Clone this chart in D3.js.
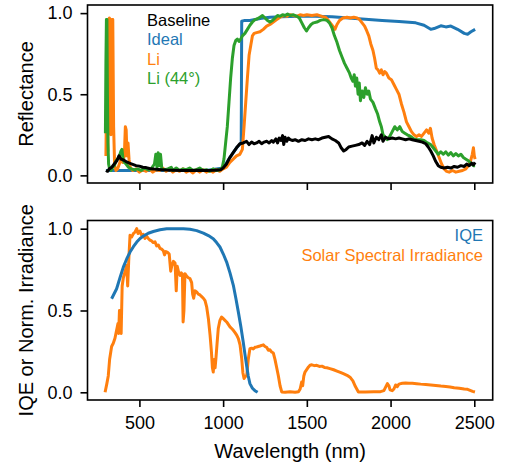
<!DOCTYPE html>
<html>
<head>
<meta charset="utf-8">
<script src="https://cdnjs.cloudflare.com/ajax/libs/d3/7.8.5/d3.min.js"></script>
<style>
  body { margin: 0; background: #fff; }
  svg { font-family: "Liberation Sans", Arial, Helvetica, sans-serif; }
  .tick text { font-size: 18px; fill: #000; }
  .tick line { stroke: #000; stroke-width: 1.6; }
  .domain { display: none; }
  .frame { fill: none; stroke: #000; stroke-width: 1.6; }
  .series { fill: none; stroke-width: 3; stroke-linejoin: round; stroke-linecap: butt; }
  .label { font-size: 20px; fill: #000; text-anchor: middle; }
  .legend { font-size: 16.5px; }
</style>
</head>
<body>
<div id="chart"></div>
<script>
// ---- data: [wavelength nm, value] ----
var xTicks = [500, 1000, 1500, 2000, 2500];
var yTicks = [0, 0.5, 1.0];

var baseline = [[300,0.03],[310,0.025],[320,0.04],[335,0.05],[350,0.07],[365,0.09],[378,0.12],[390,0.1],[405,0.095],[420,0.085],[440,0.075],[460,0.068],[480,0.06],[500,0.057],[520,0.05],[540,0.048],[560,0.042],[580,0.04],[600,0.037],[630,0.035],[660,0.033],[700,0.032],[750,0.03],[800,0.03],[850,0.031],[900,0.03],[950,0.031],[985,0.035],[1000,0.045],[1020,0.07],[1040,0.11],[1060,0.14],[1080,0.17],[1100,0.195],[1120,0.2],[1140,0.21],[1155,0.19],[1170,0.205],[1185,0.195],[1200,0.2],[1215,0.21],[1230,0.195],[1245,0.205],[1260,0.21],[1275,0.2],[1290,0.215],[1300,0.205],[1315,0.225],[1325,0.2],[1335,0.23],[1345,0.215],[1355,0.245],[1362,0.19],[1370,0.235],[1380,0.21],[1390,0.23],[1400,0.22],[1415,0.215],[1430,0.22],[1450,0.21],[1470,0.22],[1490,0.215],[1510,0.225],[1530,0.22],[1550,0.225],[1570,0.22],[1590,0.23],[1610,0.235],[1630,0.24],[1650,0.225],[1670,0.215],[1690,0.2],[1705,0.17],[1720,0.15],[1735,0.16],[1750,0.175],[1770,0.18],[1790,0.185],[1810,0.19],[1830,0.2],[1845,0.185],[1860,0.21],[1875,0.19],[1890,0.245],[1900,0.2],[1915,0.235],[1930,0.22],[1945,0.25],[1955,0.21],[1970,0.235],[1990,0.225],[2010,0.23],[2030,0.225],[2050,0.23],[2070,0.225],[2090,0.22],[2110,0.225],[2130,0.22],[2150,0.215],[2170,0.21],[2190,0.205],[2210,0.195],[2225,0.175],[2240,0.15],[2255,0.12],[2270,0.085],[2285,0.06],[2300,0.05],[2320,0.045],[2340,0.05],[2360,0.045],[2380,0.055],[2400,0.05],[2420,0.06],[2440,0.055],[2455,0.07],[2470,0.06],[2485,0.075],[2495,0.065],[2505,0.08]];

var ideal = [[300,0.03],[400,0.03],[500,0.03],[600,0.03],[700,0.03],[800,0.03],[900,0.03],[1000,0.045],[1040,0.11],[1080,0.17],[1108,0.2],[1111,0.95],[1130,0.955],[1160,0.955],[1190,0.96],[1230,0.968],[1280,0.975],[1350,0.978],[1450,0.98],[1550,0.98],[1650,0.978],[1750,0.97],[1850,0.962],[1950,0.955],[2050,0.948],[2150,0.94],[2200,0.925],[2240,0.9],[2260,0.905],[2300,0.922],[2330,0.915],[2360,0.92],[2400,0.9],[2440,0.875],[2460,0.87],[2480,0.885],[2505,0.9]];

var li = [[300,0.12],[304,0.5],[308,0.3],[312,0.15],[316,0.96],[321,0.97],[325,0.4],[330,0.25],[335,0.96],[341,0.96],[346,0.3],[352,0.06],[360,0.03],[370,0.04],[380,0.07],[390,0.1],[400,0.08],[410,0.12],[416,0.3],[421,0.28],[426,0.12],[432,0.2],[438,0.1],[445,0.05],[460,0.03],[480,0.04],[500,0.02],[520,0.035],[540,0.025],[560,0.04],[580,0.02],[600,0.035],[620,0.03],[640,0.045],[660,0.025],[680,0.04],[700,0.02],[720,0.035],[740,0.025],[760,0.04],[780,0.02],[800,0.03],[820,0.015],[840,0.035],[860,0.02],[880,0.035],[900,0.02],[920,0.03],[940,0.02],[960,0.035],[980,0.025],[1000,0.04],[1020,0.05],[1040,0.08],[1060,0.1],[1080,0.12],[1100,0.13],[1115,0.16],[1125,0.3],[1135,0.45],[1145,0.6],[1155,0.74],[1165,0.8],[1175,0.86],[1185,0.875],[1200,0.88],[1220,0.885],[1240,0.9],[1260,0.92],[1280,0.93],[1300,0.945],[1320,0.96],[1340,0.975],[1360,0.985],[1380,0.98],[1400,0.99],[1420,0.985],[1440,0.98],[1460,0.99],[1480,0.985],[1500,0.99],[1530,0.985],[1560,0.99],[1590,0.98],[1610,0.975],[1625,0.96],[1640,0.94],[1655,0.92],[1668,0.9],[1680,0.93],[1695,0.955],[1715,0.97],[1740,0.975],[1760,0.97],[1780,0.975],[1800,0.97],[1815,0.96],[1830,0.94],[1845,0.92],[1858,0.89],[1870,0.86],[1882,0.81],[1895,0.77],[1905,0.72],[1915,0.66],[1925,0.65],[1935,0.63],[1945,0.65],[1955,0.62],[1965,0.64],[1975,0.63],[1990,0.6],[2005,0.59],[2020,0.56],[2035,0.53],[2050,0.5],[2065,0.44],[2080,0.39],[2095,0.33],[2110,0.3],[2125,0.27],[2140,0.25],[2155,0.24],[2170,0.25],[2185,0.24],[2200,0.26],[2215,0.28],[2228,0.26],[2238,0.29],[2248,0.23],[2260,0.19],[2275,0.15],[2290,0.11],[2305,0.07],[2320,0.04],[2335,0.025],[2350,0.02],[2370,0.03],[2390,0.02],[2410,0.025],[2430,0.03],[2450,0.04],[2465,0.06],[2478,0.09],[2488,0.13],[2495,0.17],[2500,0.12],[2505,0.1]];

var li44 = [[297,0.26],[300,0.7],[303,0.96],[306,0.96],[309,0.5],[312,0.2],[316,0.07],[322,0.04],[330,0.03],[340,0.05],[350,0.06],[360,0.09],[370,0.1],[380,0.12],[390,0.15],[396,0.16],[402,0.1],[410,0.08],[420,0.07],[435,0.05],[450,0.04],[470,0.035],[490,0.04],[510,0.03],[530,0.045],[550,0.035],[570,0.04],[590,0.07],[598,0.13],[605,0.05],[612,0.14],[618,0.06],[626,0.13],[634,0.04],[650,0.035],[670,0.04],[690,0.05],[700,0.03],[720,0.045],[740,0.03],[760,0.04],[780,0.035],[800,0.045],[820,0.03],[840,0.035],[860,0.045],[880,0.03],[900,0.035],[920,0.025],[940,0.04],[960,0.03],[980,0.035],[995,0.05],[1005,0.1],[1015,0.2],[1025,0.3],[1035,0.45],[1045,0.6],[1055,0.72],[1065,0.8],[1075,0.83],[1085,0.84],[1095,0.825],[1105,0.84],[1115,0.86],[1130,0.875],[1145,0.9],[1160,0.925],[1175,0.945],[1190,0.96],[1205,0.965],[1220,0.975],[1235,0.985],[1250,0.97],[1265,0.955],[1280,0.945],[1295,0.955],[1310,0.97],[1325,0.985],[1340,0.98],[1355,0.99],[1370,0.985],[1385,0.995],[1400,0.985],[1420,0.99],[1440,0.98],[1455,0.97],[1470,0.94],[1485,0.91],[1498,0.89],[1510,0.91],[1525,0.93],[1540,0.94],[1560,0.945],[1580,0.955],[1600,0.96],[1620,0.955],[1635,0.94],[1650,0.91],[1665,0.86],[1680,0.82],[1695,0.77],[1710,0.73],[1725,0.69],[1740,0.66],[1755,0.63],[1765,0.6],[1775,0.58],[1783,0.62],[1790,0.55],[1798,0.6],[1806,0.5],[1813,0.57],[1820,0.46],[1830,0.52],[1840,0.48],[1850,0.54],[1860,0.5],[1870,0.52],[1880,0.47],[1895,0.45],[1910,0.41],[1922,0.38],[1935,0.33],[1945,0.3],[1955,0.25],[1965,0.24],[1980,0.22],[1995,0.24],[2010,0.27],[2025,0.3],[2040,0.28],[2055,0.3],[2070,0.27],[2085,0.26],[2100,0.25],[2120,0.24],[2140,0.225],[2160,0.22],[2180,0.22],[2200,0.215],[2220,0.2],[2240,0.19],[2255,0.17],[2270,0.15],[2285,0.13],[2300,0.145],[2315,0.13],[2330,0.145],[2345,0.125],[2360,0.14],[2375,0.12],[2390,0.135],[2405,0.12],[2420,0.13],[2435,0.11],[2450,0.1],[2465,0.09],[2480,0.075],[2495,0.06],[2505,0.06]];

var iqe = [[334,0.572],[364,0.633],[384,0.7],[404,0.765],[424,0.815],[444,0.857],[464,0.89],[484,0.918],[504,0.94],[524,0.955],[553,0.972],[583,0.983],[623,0.993],[663,1.0],[723,1.0],[763,0.999],[802,0.996],[842,0.988],[882,0.973],[912,0.958],[941,0.939],[961,0.915],[981,0.888],[1001,0.845],[1021,0.796],[1041,0.73],[1061,0.654],[1076,0.575],[1091,0.49],[1106,0.4],[1120,0.307],[1130,0.235],[1140,0.165],[1150,0.1],[1160,0.053],[1175,0.025],[1190,0.01],[1206,0.0]];

var solar = [[295,0],[305,0.05],[314,0.1],[322,0.2],[334,0.28],[344,0.3],[354,0.33],[364,0.38],[372,0.42],[376,0.36],[381,0.5],[386,0.37],[391,0.36],[397,0.65],[404,0.7],[414,0.735],[424,0.776],[430,0.65],[436,0.8],[444,0.96],[454,0.95],[464,0.97],[474,0.98],[484,1.0],[492,0.97],[503,0.985],[513,0.96],[523,0.965],[533,0.94],[543,0.955],[553,0.94],[563,0.93],[573,0.925],[583,0.915],[593,0.92],[603,0.895],[613,0.9],[623,0.88],[633,0.875],[643,0.865],[650,0.84],[658,0.86],[668,0.855],[678,0.845],[687,0.74],[693,0.77],[703,0.8],[713,0.79],[720,0.62],[726,0.77],[735,0.73],[743,0.715],[750,0.73],[757,0.72],[761,0.43],[766,0.5],[772,0.725],[782,0.71],[792,0.7],[802,0.695],[812,0.67],[818,0.6],[824,0.575],[832,0.62],[842,0.613],[852,0.6],[862,0.595],[872,0.585],[882,0.575],[892,0.56],[902,0.52],[912,0.45],[922,0.35],[930,0.25],[936,0.15],[941,0.124],[947,0.2],[952,0.15],[957,0.207],[964,0.3],[971,0.39],[981,0.44],[991,0.46],[1001,0.45],[1011,0.44],[1021,0.43],[1031,0.415],[1041,0.4],[1051,0.39],[1061,0.379],[1071,0.365],[1081,0.35],[1091,0.328],[1101,0.29],[1111,0.206],[1118,0.12],[1125,0.084],[1133,0.1],[1141,0.1],[1150,0.2],[1160,0.267],[1170,0.27],[1180,0.265],[1190,0.275],[1200,0.277],[1210,0.28],[1220,0.283],[1230,0.287],[1240,0.29],[1250,0.28],[1260,0.275],[1270,0.257],[1280,0.26],[1290,0.246],[1300,0.24],[1310,0.2],[1320,0.15],[1330,0.1],[1340,0.04],[1350,0.002],[1370,0.0],[1400,0.003],[1430,0.0],[1450,0.003],[1460,0.02],[1469,0.063],[1475,0.04],[1482,0.1],[1489,0.124],[1500,0.14],[1510,0.155],[1519,0.165],[1530,0.168],[1545,0.163],[1559,0.165],[1575,0.158],[1590,0.16],[1605,0.152],[1620,0.15],[1638,0.145],[1660,0.138],[1680,0.13],[1700,0.122],[1718,0.114],[1740,0.104],[1760,0.09],[1775,0.07],[1790,0.035],[1808,0.002],[1850,0.002],[1900,0.003],[1940,0.004],[1960,0.01],[1972,0.035],[1981,0.053],[1990,0.04],[1997,0.015],[2010,0.01],[2020,0.02],[2030,0.045],[2040,0.035],[2050,0.05],[2070,0.055],[2090,0.057],[2110,0.056],[2130,0.055],[2156,0.053],[2180,0.05],[2210,0.048],[2240,0.045],[2270,0.042],[2300,0.038],[2330,0.035],[2355,0.033],[2380,0.028],[2410,0.025],[2440,0.02],[2460,0.018],[2475,0.012],[2490,0.006],[2504,0.002]];

var topSeries = [
  { name: "Ideal", data: ideal, color: "#1f77b4" },
  { name: "Li", data: li, color: "#ff7f0e" },
  { name: "Li (44°)", data: li44, color: "#2ca02c" },
  { name: "Baseline", data: baseline, color: "#000000" }
];
var topLegend = ["Baseline", "Ideal", "Li", "Li (44°)"];
var bottomSeries = [
  { name: "Solar Spectral Irradiance", data: solar, color: "#ff7f0e" },
  { name: "IQE", data: iqe, color: "#1f77b4" }
];
var bottomLegend = ["IQE", "Solar Spectral Irradiance"];

// ---- layout ----
var W = 506, H = 463;
var left = 87.5, right = 492.7;
var panels = [
  { top: 5, bottom: 183, series: topSeries, label: "Reflectance", showX: false },
  { top: 220.5, bottom: 400, series: bottomSeries, label: "IQE or Norm. Irradiance", showX: true }
];

var svg = d3.select("#chart").append("svg")
  .attr("width", W).attr("height", H);

var x = d3.scaleLinear().domain([190, 2610]).range([left, right]);
var line = d3.line();

panels.forEach(function(p) {
  var y = d3.scaleLinear().domain([-0.047, 1.05]).range([p.bottom, p.top]);
  var g = svg.append("g");

  line.x(function(d) { return x(d[0]); }).y(function(d) { return y(d[1]); });

  g.selectAll(".series")
    .data(p.series)
    .enter().append("path")
    .attr("class", "series")
    .attr("stroke", function(d) { return d.color; })
    .attr("d", function(d) { return line(d.data); });

  g.append("g")
    .attr("transform", "translate(0," + p.bottom + ")")
    .call(d3.axisBottom(x).tickValues(xTicks).tickSize(7).tickPadding(9)
      .tickFormat(p.showX ? d3.format("d") : ""));

  g.append("g")
    .attr("transform", "translate(" + left + ",0)")
    .call(d3.axisLeft(y).tickValues(yTicks).tickSize(7).tickPadding(8)
      .tickFormat(d3.format(".1f")));

  g.append("rect").attr("class", "frame")
    .attr("x", left).attr("y", p.top)
    .attr("width", right - left).attr("height", p.bottom - p.top);

  svg.append("text").attr("class", "label")
    .attr("transform", "translate(33," + ((p.top + p.bottom) / 2) + ") rotate(-90)")
    .text(p.label);
});

// legends (coloured text)
var colorOf = function(list, n) { return list.filter(function(s) { return s.name === n; })[0].color; };

svg.selectAll(".legTop")
  .data(topLegend)
  .enter().append("text")
  .attr("class", "legend")
  .attr("x", 147)
  .attr("y", function(d, i) { return 25.5 + i * 19.6; })
  .attr("fill", function(d) { return colorOf(topSeries, d); })
  .text(function(d) { return d; });

svg.selectAll(".legBot")
  .data(bottomLegend)
  .enter().append("text")
  .attr("class", "legend")
  .attr("x", 483)
  .attr("text-anchor", "end")
  .attr("y", function(d, i) { return 241 + i * 19.6; })
  .attr("fill", function(d) { return colorOf(bottomSeries, d); })
  .text(function(d) { return d; });

svg.append("text").attr("class", "label")
  .attr("x", (left + right) / 2).attr("y", 458)
  .text("Wavelength (nm)");
</script>
</body>
</html>
